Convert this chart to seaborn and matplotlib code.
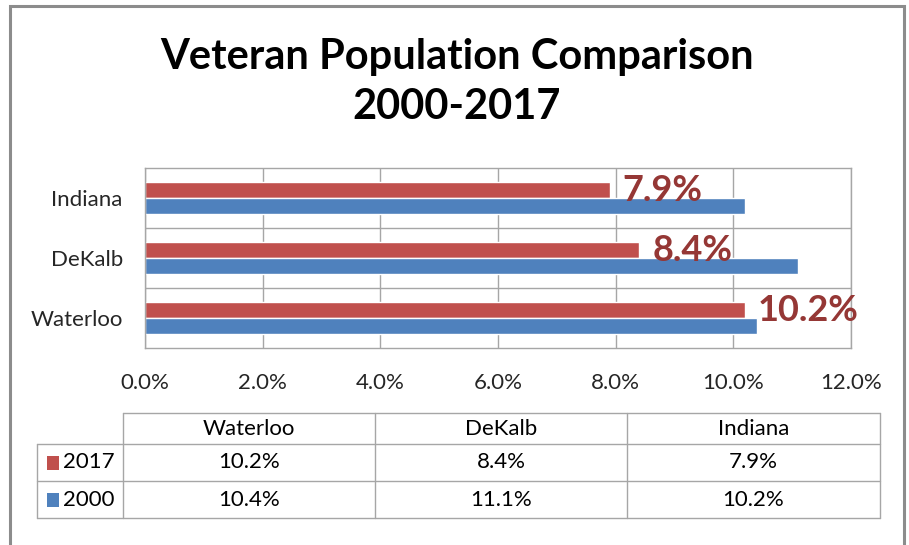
import matplotlib.pyplot as plt
import pandas as pd
import seaborn as sns
from matplotlib.lines import Line2D
from matplotlib.patches import Rectangle

# chart data
places = ['Indiana', 'DeKalb', 'Waterloo']
share_2017 = [7.9, 8.4, 10.2]
share_2000 = [10.2, 11.1, 10.4]
years = ['2017', '2000']
x_ticks = [0, 2, 4, 6, 8, 10, 12]
table_cols = ['Waterloo', 'DeKalb', 'Indiana']

RED = '#C0504D'
BLUE = '#4F81BD'
LABEL_RED = '#953735'
GRID = '#A6A6A6'
W, H = 909, 545
FS = 16

df = pd.DataFrame({
    'place': places * 2,
    'year': ['2017'] * len(places) + ['2000'] * len(places),
    'value': share_2017 + share_2000,
})

sns.set_theme(style='white')
plt.rcParams['font.family'] = ['Lato', 'DejaVu Sans']

fig = plt.figure(figsize=(W / 100, H / 100), dpi=100)


def fx(px):
    return px / W


def fy(py):
    return 1 - py / H


# outer chart border
fig.patches.append(Rectangle((fx(10), fy(560)), fx(904) - fx(10), fy(6) - fy(560),
                             transform=fig.transFigure, fill=False, edgecolor='#8C8C8C', lw=2.2))

fig.text(fx(457), fy(57), 'Veteran Population Comparison', ha='center', va='center',
         fontsize=30, fontweight='bold', color='black')
fig.text(fx(457), fy(107), '2000-2017', ha='center', va='center',
         fontsize=30, fontweight='bold', color='black')

ax = fig.add_axes([fx(145), fy(348), fx(851) - fx(145), fy(168) - fy(348)])
sns.barplot(data=df, x='value', y='place', hue='year', order=places, hue_order=years,
            palette=[RED, BLUE], width=0.54, saturation=1, ax=ax, legend=False)

ax.set_xlim(0, 12)
ax.set_xticks(x_ticks)
ax.set_xticklabels([f'{t:.1f}%' for t in x_ticks], fontsize=FS)
ax.tick_params(axis='x', pad=18, length=0)
ax.tick_params(axis='y', pad=16, length=0, labelsize=FS)
ax.set_xlabel('')
ax.set_ylabel('')
ax.xaxis.grid(True, color=GRID, lw=1)
ax.set_axisbelow(True)
for b in [0.5, 1.5]:
    ax.axhline(b, color=GRID, lw=1, zorder=0)
for s in ax.spines.values():
    s.set_color(GRID)
    s.set_linewidth(1)

for i, v in enumerate(share_2017):
    ax.text(v + 0.22, i - 0.12, f'{v:.1f}%', ha='left', va='center',
            fontsize=26, fontweight='bold', color=LABEL_RED)

# data table below the chart
col_x = [123, 375, 627, 880]
row_y = [413, 444, 481, 518]
line_kw = dict(color=GRID, lw=1, transform=fig.transFigure)
# horizontal lines
fig.lines.append(Line2D([fx(123), fx(880)], [fy(413), fy(413)], **line_kw))
for y in row_y[1:]:
    fig.lines.append(Line2D([fx(37), fx(880)], [fy(y), fy(y)], **line_kw))
# vertical lines
fig.lines.append(Line2D([fx(37), fx(37)], [fy(444), fy(518)], **line_kw))
for x in col_x:
    fig.lines.append(Line2D([fx(x), fx(x)], [fy(413), fy(518)], **line_kw))

for j, name in enumerate(table_cols):
    cx = (col_x[j] + col_x[j + 1]) / 2
    fig.text(fx(cx), fy(429), name, ha='center', va='center', fontsize=FS, color='black')

lookup_2017 = dict(zip(places, share_2017))
lookup_2000 = dict(zip(places, share_2000))
for r, (yr, lookup, color) in enumerate([('2017', lookup_2017, RED), ('2000', lookup_2000, BLUE)]):
    cy = (row_y[r + 1] + row_y[r + 2]) / 2
    fig.patches.append(Rectangle((fx(47), fy(cy + 7)), fx(12), fy(cy - 7) - fy(cy + 7),
                                 transform=fig.transFigure, facecolor=color, edgecolor='none'))
    fig.text(fx(63), fy(cy), yr, ha='left', va='center', fontsize=FS, color='black')
    for j, name in enumerate(table_cols):
        cx = (col_x[j] + col_x[j + 1]) / 2
        fig.text(fx(cx), fy(cy), f'{lookup[name]:.1f}%', ha='center', va='center',
                 fontsize=FS, color='black')

fig.savefig('out.png', dpi=100)
